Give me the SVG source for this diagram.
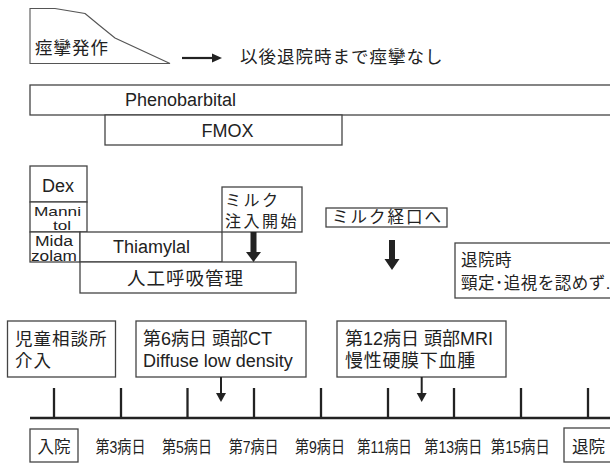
<svg xmlns="http://www.w3.org/2000/svg" width="610" height="463" viewBox="0 0 610 463">
<style>
.b{fill:#fff;stroke:#444;stroke-width:1.3}
.t{font-family:"Liberation Sans","Noto Sans CJK JP",sans-serif;fill:#222;font-size:18px}
.j{font-family:"Liberation Sans","Noto Sans CJK JP",sans-serif;fill:#222;font-size:17.5px;letter-spacing:1px}
.s{font-family:"Liberation Sans","Noto Sans CJK JP",sans-serif;fill:#222;font-size:14px}
.d{font-family:"Liberation Sans","Noto Sans CJK JP",sans-serif;fill:#222;font-size:17px;text-anchor:middle}
.tk{stroke:#222;stroke-width:2.3}
.ar{fill:#222}
</style>
<rect width="610" height="463" fill="#fff"/>

<g id="seizure">
<path d="M30,8.5 L55,8.5 L85,13.5 Q100,26 115,38 L170,63.5 L30,63.5 Z" fill="#fff" stroke="#555" stroke-width="1.1"/>
<text class="j" x="35" y="54">痙攣発作</text>
</g>
<g id="noseizure">
<text class="j" x="240" y="63">以後退院時まで痙攣なし</text>
</g>

<g id="phenobarbital">
<rect class="b" x="30" y="85" width="590" height="30"/>
<text class="t" x="180.5" y="106" text-anchor="middle">Phenobarbital</text>
</g>
<g id="fmox">
<rect class="b" x="105" y="115" width="237" height="30"/>
<text class="t" x="227.5" y="136.5" text-anchor="middle">FMOX</text>
</g>

<g id="dex">
<rect class="b" x="30" y="166" width="57" height="36"/>
<text class="t" x="58" y="191.5" text-anchor="middle">Dex</text>
</g>
<g id="mannitol">
<rect class="b" x="30" y="202" width="57" height="30"/>
<text class="s" x="34" y="215.5" textLength="47" lengthAdjust="spacingAndGlyphs" style="font-size:13px">Manni</text>
<text class="s" x="53" y="230" textLength="18" lengthAdjust="spacingAndGlyphs" style="font-size:13px">tol</text>
</g>
<g id="midazolam">
<rect class="b" x="30" y="232" width="50" height="30"/>
<text class="s" x="35" y="245.5" textLength="38" lengthAdjust="spacingAndGlyphs">Mida</text>
<text class="s" x="31" y="261" textLength="46" lengthAdjust="spacingAndGlyphs">zolam</text>
</g>
<g id="thiamylal">
<rect class="b" x="80" y="232" width="142" height="30"/>
<text class="t" x="151.5" y="253" text-anchor="middle">Thiamylal</text>
</g>
<g id="ventilation">
<rect class="b" x="80" y="262" width="216" height="31"/>
<text class="j" x="127" y="285" style="font-size:18.5px">人工呼吸管理</text>
</g>
<g id="milk-inject">
<rect class="b" x="222" y="187" width="80" height="45"/>
<text class="j" x="225" y="205.5" style="font-size:16px;letter-spacing:2.5px">ミルク</text>
<text class="j" x="225" y="227" style="font-size:16px;letter-spacing:2.5px">注入開始</text>
</g>
<g id="milk-oral">
<rect class="b" x="326" y="208" width="121" height="19"/>
<text class="j" x="332" y="223" style="font-size:16.5px;letter-spacing:2px">ミルク経口へ</text>
</g>
<g id="discharge-note">
<rect class="b" x="455" y="243" width="160" height="55"/>
<text class="j" x="461" y="266" style="font-size:16.5px;letter-spacing:0.5px">退院時</text>
<text class="j" x="461" y="289" style="font-size:16.5px;letter-spacing:0.5px">頸定･追視を認めず.</text>
</g>

<g id="jidou">
<rect class="b" x="7.5" y="321" width="108" height="56"/>
<text class="j" x="15" y="345">児童相談所</text>
<text class="j" x="15" y="367">介入</text>
</g>
<g id="ct">
<rect class="b" x="136" y="321" width="170" height="56"/>
<text class="t" x="143" y="345">第6病日 頭部CT</text>
<text class="t" x="143" y="367">Diffuse low density</text>
</g>
<g id="mri">
<rect class="b" x="337" y="321" width="169" height="56"/>
<text class="t" x="345" y="345">第12病日 頭部MRI</text>
<text class="t" x="345" y="367" style="letter-spacing:0.7px">慢性硬膜下血腫</text>
</g>

<g id="timeline">
<line x1="30" y1="418" x2="610" y2="418" stroke="#222" stroke-width="2.6"/>
<line class="tk" x1="54" y1="388" x2="54" y2="418"/>
<line class="tk" x1="121" y1="388" x2="121" y2="418"/>
<line class="tk" x1="187.5" y1="388" x2="187.5" y2="418"/>
<line class="tk" x1="254" y1="388" x2="254" y2="418"/>
<line class="tk" x1="321" y1="388" x2="321" y2="418"/>
<line class="tk" x1="388" y1="388" x2="388" y2="418"/>
<line class="tk" x1="454" y1="388" x2="454" y2="418"/>
<line class="tk" x1="521" y1="388" x2="521" y2="418"/>
<line class="tk" x1="588" y1="388" x2="588" y2="418"/>
</g>
<g id="day-labels">
<text class="d" x="120.5" y="453" textLength="50" lengthAdjust="spacingAndGlyphs">第3病日</text>
<text class="d" x="187" y="453" textLength="50" lengthAdjust="spacingAndGlyphs">第5病日</text>
<text class="d" x="253.7" y="453" textLength="50" lengthAdjust="spacingAndGlyphs">第7病日</text>
<text class="d" x="320" y="453" textLength="50" lengthAdjust="spacingAndGlyphs">第9病日</text>
<text class="d" x="384.5" y="453" textLength="55" lengthAdjust="spacingAndGlyphs">第11病日</text>
<text class="d" x="453.3" y="453" textLength="58" lengthAdjust="spacingAndGlyphs">第13病日</text>
<text class="d" x="520.3" y="453" textLength="59" lengthAdjust="spacingAndGlyphs">第15病日</text>
</g>
<g id="admission">
<rect class="b" x="30" y="429" width="48" height="33"/>
<text class="j" x="37.5" y="453" style="font-size:16.5px;letter-spacing:0">入院</text>
</g>
<g id="discharge">
<rect class="b" x="564" y="428" width="50" height="34"/>
<text class="j" x="572" y="453" style="font-size:16.5px;letter-spacing:0">退院</text>
</g>

<g id="connectors">
<line x1="182" y1="58" x2="214" y2="58" stroke="#222" stroke-width="2.2"/>
<polygon class="ar" points="212,53.5 222,58 212,62.5"/>
<polygon class="ar" points="250.5,232 256.5,232 256.5,252 261,252 253.5,262 246,252 250.5,252"/>
<polygon class="ar" points="389,240 395,240 395,259 399.5,259 392,270 384.5,259 389,259"/>
<line x1="221" y1="377" x2="221" y2="394" stroke="#222" stroke-width="2"/>
<polygon class="ar" points="216,393 226,393 221,402"/>
<line x1="421.7" y1="377" x2="421.7" y2="394" stroke="#222" stroke-width="2"/>
<polygon class="ar" points="416.7,393 426.7,393 421.7,402"/>
</g>
</svg>
